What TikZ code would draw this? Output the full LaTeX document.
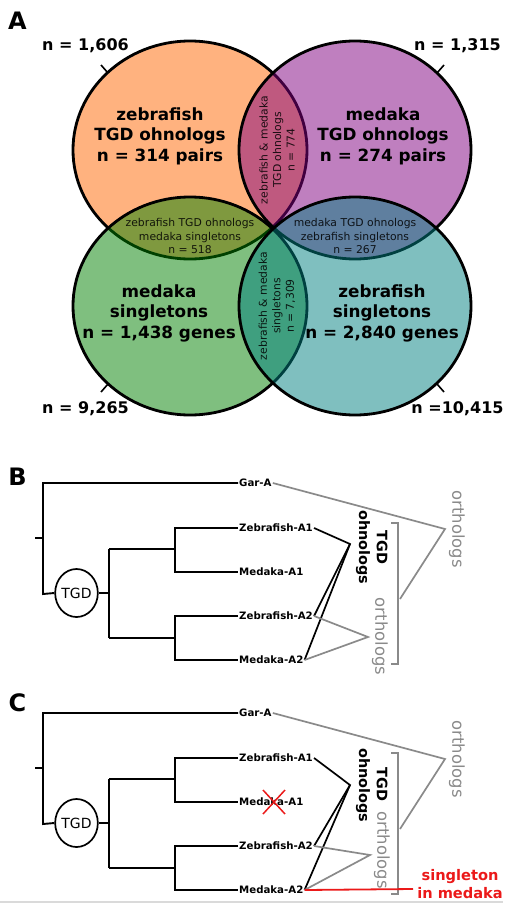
\documentclass[tikz,border=0pt]{standalone}
\usepackage{fontspec}
\setmainfont{DejaVu Sans}
\usetikzlibrary{shapes.geometric}
\definecolor{vorange}{RGB}{255,102,0}
\definecolor{vpurple}{RGB}{128,0,128}
\definecolor{vgreen}{RGB}{0,128,0}
\definecolor{vteal}{RGB}{0,128,128}
\definecolor{orthgray}{RGB}{138,138,138}
\definecolor{singred}{RGB}{235,25,25}
\definecolor{rulegray}{RGB}{218,218,218}
\tikzset{
  vset/.style={draw=black, line width=2.8pt, fill opacity=0.5},
  tickline/.style={draw=black, line width=1.6pt},
  panellbl/.style={font=\fontsize{24}{28}\selectfont\bfseries, inner sep=0pt},
  nlbl/.style={font=\fontsize{16}{19}\selectfont\bfseries, inner sep=0pt},
  vbig/.style={font=\fontsize{16.8}{20.5}\selectfont\bfseries, align=center, inner sep=0pt},
  vsmall/.style={font=\fontsize{10.8}{13.5}\selectfont, align=center, inner sep=0pt, text=black, text opacity=0.85},
  leaf/.style={font=\fontsize{10.2}{12}\selectfont\bfseries, anchor=west, inner sep=1pt},
  branch/.style={draw=black, line width=1.9pt},
  ohno/.style={draw=black, line width=1.7pt},
  orthline/.style={draw=orthgray, line width=1.7pt},
  tgdnode/.style={ellipse, draw=black, line width=1.7pt, minimum width=39pt, minimum height=48pt, inner sep=0pt, font=\fontsize{14}{16}\selectfont},
  tgdlbl/.style={font=\fontsize{14.4}{17}\selectfont\bfseries, rotate=-90, inner sep=0pt},
  orthlbl/.style={font=\fontsize{16.4}{19}\selectfont, text=orthgray, rotate=-90, inner sep=0pt},
  redmark/.style={draw=singred, line width=1.5pt},
}
\newcommand{\mytree}[2]{%
  \begin{scope}[yshift=-#2pt]
    \coordinate (#1stub) at (35,538);
    \coordinate (#1root) at (43,538);
    \coordinate (#1rt) at (43,483);
    \coordinate (#1rb) at (43,594);
    \node[tgdnode] (#1tgd) at (76.5,593) {TGD};
    \coordinate (#1d) at (109,593);
    \coordinate (#1dt) at (109,549);
    \coordinate (#1db) at (109,638);
    \coordinate (#1ut) at (175,549);
    \coordinate (#1lt) at (175,638);
    \coordinate (#1utt) at (175,528);
    \coordinate (#1utb) at (175,572);
    \coordinate (#1ltt) at (175,616);
    \coordinate (#1ltb) at (175,660);
    \node[leaf] (#1gar) at (238,483) {Gar-A};
    \node[leaf] (#1za) at (238,528) {Zebrafish-A1};
    \node[leaf] (#1ma) at (238,572) {Medaka-A1};
    \node[leaf] (#1zb) at (238,616) {Zebrafish-A2};
    \node[leaf] (#1mb) at (238,660) {Medaka-A2};
    \draw[branch] (#1stub) -- (#1root);
    \draw[branch] (#1gar.west) -- (#1rt) -- (#1rb) -- (#1tgd.west);
    \draw[branch] (#1tgd.east) -- (#1d);
    \draw[branch] (#1dt) -- (#1db);
    \draw[branch] (#1dt) -- (#1ut);
    \draw[branch] (#1db) -- (#1lt);
    \draw[branch] (#1za.west) -- (#1utt) -- (#1utb) -- (#1ma.west);
    \draw[branch] (#1zb.west) -- (#1ltt) -- (#1ltb) -- (#1mb.west);
    \coordinate (#1bt) at (391,523);
    \coordinate (#1btr) at (398,523);
    \coordinate (#1bbr) at (398,664);
    \coordinate (#1bb) at (391,664);
    \draw[orthline] (#1bt) -- (#1btr) -- (#1bbr) -- (#1bb);
    \coordinate (#1gv) at (445,529);
    \coordinate (#1gm) at (400,599);
    \draw[orthline] (#1gar.east) -- (#1gv) -- (#1gm);
    \node[orthlbl] (#1orthR) at (457,529) {orthologs};
  \end{scope}}
\begin{document}
\begin{tikzpicture}[x=1pt,y=-1pt]
\useasboundingbox (0,0) rectangle (512,910);
% ---------------- Panel A: Venn ----------------
\path[vset, fill=vorange] (190,150) ellipse [x radius=117pt, y radius=109pt];
\path[vset, fill=vpurple] (355,150) ellipse [x radius=116pt, y radius=109pt];
\path[vset, fill=vgreen] (190,306) ellipse [x radius=117pt, y radius=109pt];
\path[vset, fill=vteal] (355,306) ellipse [x radius=116pt, y radius=109pt];
\coordinate (tl1) at (108,73); \coordinate (tl2) at (101,65);
\coordinate (tr1) at (437,73); \coordinate (tr2) at (444,65);
\coordinate (bl1) at (108,384); \coordinate (bl2) at (101,392);
\coordinate (br1) at (437,384); \coordinate (br2) at (444,392);
\draw[tickline] (tl1) -- (tl2);
\draw[tickline] (tr1) -- (tr2);
\draw[tickline] (bl1) -- (bl2);
\draw[tickline] (br1) -- (br2);
\node[panellbl] (lblA) at (17.5,21) {A};
\node[nlbl] (n1606) at (85.5,46) {n = 1,606};
\node[nlbl] (n1315) at (457.5,46) {n = 1,315};
\node[nlbl] (n9265) at (85.5,409) {n = 9,265};
\node[nlbl] (n10415) at (457.5,409) {n =10,415};
\node[vbig] (zfTGD) at (160,136) {zebrafish\\TGD ohnologs\\n = 314 pairs};
\node[vbig] (mdTGD) at (383,136) {medaka\\TGD ohnologs\\n = 274 pairs};
\node[vbig] (mdSing) at (159,313) {medaka\\singletons\\n = 1,438 genes};
\node[vbig] (zfSing) at (382,313) {zebrafish\\singletons\\n = 2,840 genes};
\node[vsmall, rotate=90] (lensTop) at (277,150) {zebrafish \& medaka\\TGD ohnologs\\n = 774};
\node[vsmall, rotate=90] (lensBot) at (277,306) {zebrafish \& medaka\\singletons\\n = 7,309};
\node[vsmall] (lensL) at (190,236) {zebrafish TGD ohnologs\\medaka singletons\\n = 518};
\node[vsmall] (lensR) at (355,236) {medaka TGD ohnologs\\zebrafish singletons\\n = 267};
% ---------------- Panel B ----------------
\node[panellbl] (lblB) at (17.5,477) {B};
\mytree{b}{0}
\coordinate (bov) at (350,544);
\draw[ohno] (bza.east) -- (bov) -- (bzb.east);
\draw[ohno] (bov) -- (bmb.east);
\coordinate (bgl) at (368,637);
\draw[orthline] (bzb.east) -- (bgl) -- (bmb.east);
\node[tgdlbl] (bTGD) at (382,547.5) {TGD};
\node[tgdlbl] (bohno) at (363,547.5) {ohnologs};
\node[orthlbl] (borthL) at (380,636.5) {orthologs};
% ---------------- Panel C ----------------
\node[panellbl] (lblC) at (17.5,703) {C};
\mytree{c}{230}
\coordinate (cov) at (350,785);
\draw[ohno] (cza.east) -- (cov) -- (czb.east);
\draw[ohno] (cov) -- (cmb.east);
\coordinate (cgl) at (370,855);
\draw[orthline] (czb.east) -- (cgl) -- (cmb.east);
\node[tgdlbl] (cTGD) at (382,784.5) {TGD};
\node[tgdlbl] (cohno) at (363,785.5) {ohnologs};
\node[orthlbl] (corthL) at (382,850) {orthologs};
\coordinate (x1) at (263,790); \coordinate (x2) at (285,814);
\coordinate (x3) at (285,790); \coordinate (x4) at (263,814);
\draw[redmark] (x1) -- (x2);
\draw[redmark] (x3) -- (x4);
\coordinate (redend) at (413,889);
\draw[redmark, line width=1.8pt] (cmb.east) -- (redend);
\node[font=\fontsize{14.6}{18}\selectfont\bfseries, text=singred, align=center, inner sep=0pt] (single) at (460,884) {singleton\\in medaka};
\coordinate (rule1) at (0,902); \coordinate (rule2) at (503,902);
\draw[draw=rulegray, line width=2pt] (rule1) -- (rule2);
\end{tikzpicture}
\end{document}
